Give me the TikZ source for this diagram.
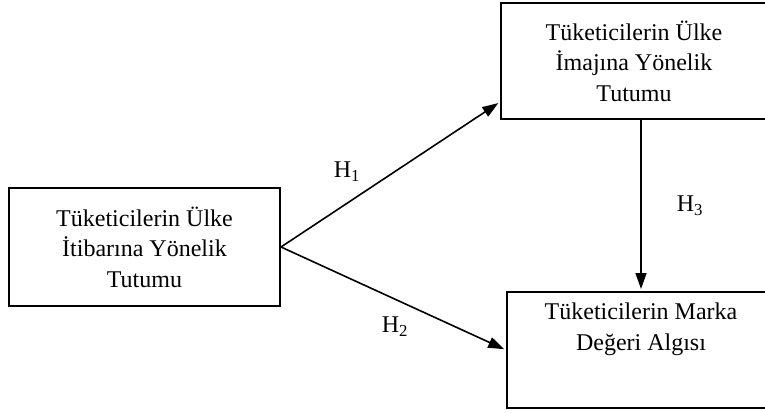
\documentclass[tikz,border=0pt]{standalone}
\usepackage{fontspec}
\setmainfont{Liberation Serif}
\usetikzlibrary{arrows.meta,positioning}

\tikzset{
  kutu/.style={draw, line width=2pt, align=center},
  yazi/.style={inner sep=0pt, align=center},
  ok/.style={-{Triangle[length=16pt,width=11pt]}, line width=1.6pt, shorten >=2pt},
}

\begin{document}
\begin{tikzpicture}[x=1pt,y=-1pt,font=\fontsize{24}{30.5}\selectfont]
\clip (0,0) rectangle (765,412);

\node[kutu, minimum width=271pt, minimum height=118pt] (itibar) at (144.5,247) {Tüketicilerin Ülke\\İtibarına Yönelik\\Tutumu};
\node[kutu, minimum width=266pt, minimum height=116pt] (imaj) at (634,61) {Tüketicilerin Ülke\\İmajına Yönelik\\Tutumu};
\node[kutu, minimum width=268pt, minimum height=116pt] (marka) at (641,350) {};
\node[yazi, below=12pt of marka.north] (markayazi) {Tüketicilerin Marka\\Değeri Algısı};

\draw[ok] (itibar.east) -- (imaj.197);
\draw[ok] (itibar.east) -- (marka.west);
\draw[ok] (imaj.south -| marka.north) -- (marka.north);

\node (h1) at (347,172) {H\textsubscript{1}};
\node (h2) at (395,327) {H\textsubscript{2}};
\node (h3) at (690,206) {H\textsubscript{3}};
\end{tikzpicture}
\end{document}
